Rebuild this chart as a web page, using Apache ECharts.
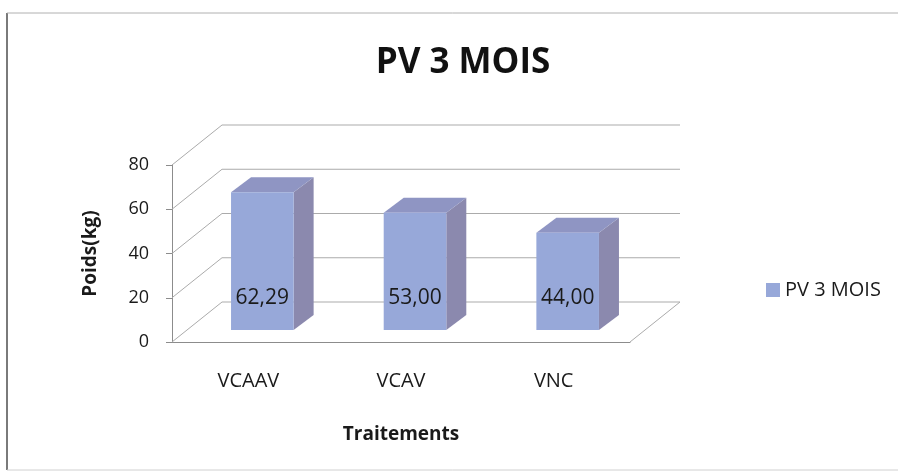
<!DOCTYPE html>
<html>
<head>
<meta charset="utf-8">
<title>PV 3 MOIS</title>
<script src="https://cdn.jsdelivr.net/npm/echarts@6/dist/echarts.min.js"></script>
<style>
  html, body { margin: 0; padding: 0; background: #fff; }
  #chart { width: 898px; height: 473px; }
</style>
</head>
<body>
<div id="chart"></div>
<script>
// données
const traitements = ['VCAAV', 'VCAV', 'VNC'];
const pv3Mois = [62.29, 53.00, 44.00];
const yTicks = [0, 20, 40, 60, 80];

const FONT = '"Open Sans", sans-serif';

// profondeur de la boîte 3D (px)
const WALL_DX = 50, WALL_DY = -40;
// décalage des barres dans la boîte + profondeur des barres
const BAR_DX = 14, BAR_DY = -12;
const BAR_DEPTH_X = 20, BAR_DEPTH_Y = -15;
const BAR_RATIO = 0.41;

const colors = {
  front: '#97a8d9',
  side: '#8b89ae',
  top: '#8f95c3',
  grid: '#ababab',
  axis: '#8c8c8c',
  text: '#1a1a1a'
};

const chart = echarts.init(document.getElementById('chart'));

// murs (quadrillage du fond + paroi gauche)
function renderWall(params, api) {
  const v = api.value(1);
  const band = api.size([1, 0])[0];
  const first = api.coord([0, v]);
  const last = api.coord([traitements.length - 1, v]);
  const x0 = first[0] - band / 2;
  const x1 = last[0] + band / 2;
  const y = first[1];
  const style = { stroke: colors.grid, lineWidth: 1, fill: null };
  const children = [{
    type: 'polyline',
    shape: { points: [[x0, y], [x0 + WALL_DX, y + WALL_DY], [x1 + WALL_DX, y + WALL_DY]] },
    style: style
  }];
  // bord droit du plancher
  if (v === 0) {
    children.push({
      type: 'line',
      shape: { x1: x1, y1: y, x2: x1 + WALL_DX, y2: y + WALL_DY },
      style: style
    });
  }
  return { type: 'group', children: children };
}

// barres "3D"
function renderBar(params, api) {
  const i = api.value(0);
  const v = api.value(1);
  const band = api.size([1, 0])[0];
  const w = band * BAR_RATIO;
  const base = api.coord([i, 0]);
  const top = api.coord([i, v]);
  const x = base[0] - w / 2 + BAR_DX;
  const yb = base[1] + BAR_DY;
  const yt = top[1] + BAR_DY;
  const dx = BAR_DEPTH_X, dy = BAR_DEPTH_Y;
  return {
    type: 'group',
    children: [
      {
        type: 'polygon',
        shape: { points: [[x + w, yt], [x + w + dx, yt + dy], [x + w + dx, yb + dy], [x + w, yb]] },
        style: { fill: colors.side }
      },
      {
        type: 'polygon',
        shape: { points: [[x, yt], [x + dx, yt + dy], [x + w + dx, yt + dy], [x + w, yt]] },
        style: { fill: colors.top }
      },
      {
        type: 'rect',
        shape: { x: x, y: yt, width: w, height: yb - yt },
        style: { fill: colors.front }
      },
      {
        type: 'text',
        style: {
          text: v.toFixed(2).replace('.', ','),
          x: x + w / 2,
          y: yb - 32,
          align: 'center',
          verticalAlign: 'middle',
          fill: colors.text,
          fontSize: 21,
          fontFamily: FONT
        }
      }
    ]
  };
}

const option = {
  backgroundColor: '#fff',
  animation: false,
  title: {
    text: 'PV 3 MOIS',
    left: 458,
    top: 41,
    textAlign: 'center',
    textStyle: { fontFamily: FONT, fontSize: 35, fontWeight: 'bold', color: '#111' }
  },
  legend: {
    data: ['PV 3 MOIS'],
    orient: 'vertical',
    left: 761,
    top: 275,
    icon: 'rect',
    itemWidth: 14,
    itemHeight: 14,
    textStyle: { fontFamily: FONT, fontSize: 20, color: colors.text }
  },
  grid: { left: 172, right: 268, top: 165, bottom: 131 },
  xAxis: {
    type: 'category',
    data: traitements,
    axisLine: { lineStyle: { color: colors.axis } },
    axisTick: { length: 5, lineStyle: { color: colors.axis } },
    axisLabel: { margin: 29, fontSize: 20, fontFamily: FONT, color: colors.text },
    name: 'Traitements',
    nameLocation: 'middle',
    nameGap: 83,
    nameTextStyle: { fontFamily: FONT, fontSize: 19, fontWeight: 'bold', color: colors.text }
  },
  yAxis: {
    type: 'value',
    min: 0,
    max: 80,
    interval: 20,
    axisLine: { show: true, lineStyle: { color: colors.axis } },
    axisTick: { show: true, length: 6, lineStyle: { color: colors.axis } },
    splitLine: { show: false },
    axisLabel: { margin: 23, fontSize: 18, fontFamily: FONT, color: colors.text },
    name: 'Poids(kg)',
    nameLocation: 'middle',
    nameRotate: 90,
    nameGap: 72,
    nameTextStyle: { fontFamily: FONT, fontSize: 19, fontWeight: 'bold', color: colors.text }
  },
  series: [
    {
      type: 'custom',
      renderItem: renderWall,
      data: yTicks.map(v => [0, v]),
      clip: false,
      silent: true,
      z: 1
    },
    {
      name: 'PV 3 MOIS',
      type: 'custom',
      renderItem: renderBar,
      data: pv3Mois.map((v, i) => [i, v]),
      itemStyle: { color: colors.front },
      clip: false,
      z: 2
    }
  ],
  // cadre du graphique
  graphic: [
    { type: 'line', shape: { x1: 7, y1: 13, x2: 7, y2: 470 }, style: { stroke: '#7a7a7a', lineWidth: 2 } },
    { type: 'line', shape: { x1: 7, y1: 13, x2: 898, y2: 13 }, style: { stroke: '#b0b0b0', lineWidth: 1 } },
    { type: 'line', shape: { x1: 7, y1: 470, x2: 898, y2: 470 }, style: { stroke: '#d0d0d0', lineWidth: 1 } }
  ]
};

chart.setOption(option);
window.addEventListener('resize', () => chart.resize());
</script>
</body>
</html>
